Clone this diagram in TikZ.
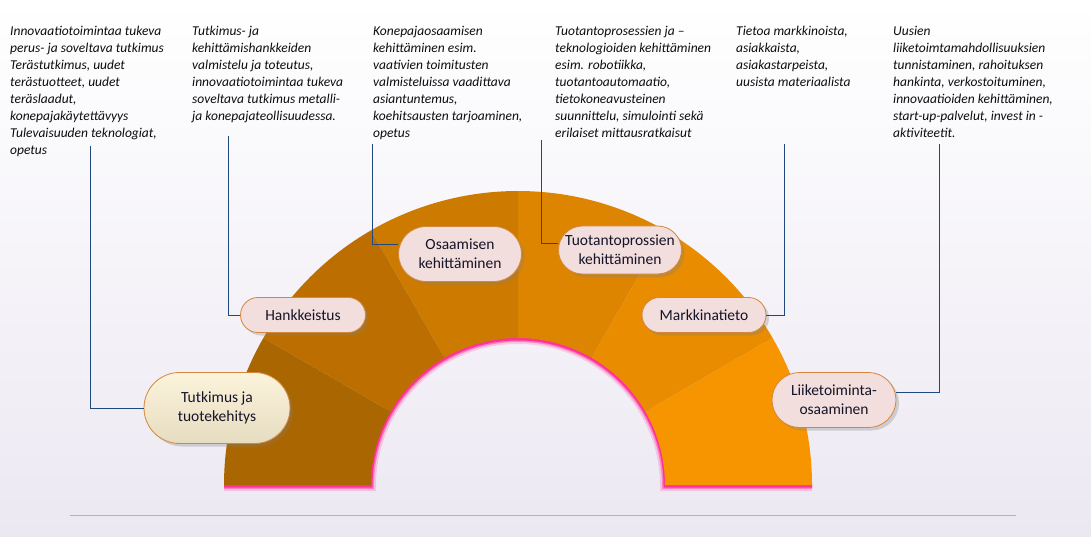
\documentclass[tikz,border=0pt]{standalone}
\usepackage{fontspec}
\setmainfont{Carlito}
\usetikzlibrary{positioning,calc,shapes.misc,shadows}
\definecolor{segA}{RGB}{170,102,0}
\definecolor{segB}{RGB}{188,111,0}
\definecolor{segC}{RGB}{204,122,0}
\definecolor{segD}{RGB}{221,133,0}
\definecolor{segE}{RGB}{233,140,0}
\definecolor{segF}{RGB}{247,149,0}
\definecolor{linkblue}{RGB}{31,73,125}
\definecolor{pillfill}{RGB}{242,222,221}
\definecolor{pillrim}{RGB}{214,134,58}
\definecolor{creamtop}{RGB}{252,243,220}
\definecolor{creambot}{RGB}{230,220,192}
\definecolor{glowpink}{RGB}{255,51,153}
\definecolor{bglav}{RGB}{236,232,242}
\definecolor{inknavy}{RGB}{20,20,40}

\begin{document}
\begin{tikzpicture}[x=1pt, y=1pt,
  pill/.style={rounded rectangle, draw=pillrim, line width=0.8pt,
    fill=pillfill, text=inknavy, align=center, inner sep=2pt,
    font=\fontsize{15.5}{19}\selectfont,
    drop shadow={opacity=0.3, shadow xshift=3pt, shadow yshift=-3pt}},
  note/.style={anchor=north west, align=left, inner sep=0pt,
    font=\itshape\fontsize{13.5}{17}\selectfont, text=black!95},
  link/.style={draw=linkblue, line width=0.7pt}]
% background
\fill[top color=white, bottom color=bglav] (0,0) rectangle (1091,536);
\useasboundingbox (0,0) rectangle (1091,536);
\draw[black!30, line width=1pt] (70,21) -- (1016,21);

% half ring
\begin{scope}[shift={(518,51)}]
  \foreach \w/\o in {10/0.2, 6/0.45, 3/1}
    \draw[glowpink, line width=\w pt, opacity=\o]
      (-294,-1) -- (-147,-1) arc[start angle=180, end angle=0, radius=147]
      -- (294,-1);
  \foreach \c [count=\i from 0] in {segF,segE,segD,segC,segB,segA}
    \fill[\c] (\i*30:147) -- (\i*30:294)
      arc[start angle=\i*30, end angle=\i*30+30, radius=294]
      -- ({\i*30+30}:147)
      arc[start angle=\i*30+30, end angle=\i*30, radius=147] -- cycle;
\end{scope}

% labels on the ring
\node[pill, minimum width=150, minimum height=71,
  top color=creamtop, bottom color=creambot]
  (tutk) at (217,128) {Tutkimus ja\\tuotekehitys};
\node[pill, minimum width=129, minimum height=35] (hank) at (303,221)
  {Hankkeistus};
\node[pill, minimum width=127, minimum height=55] (osaa) at (460,282)
  {Osaamisen\\kehittäminen};
\node[pill, minimum width=127, minimum height=48] (tuot) at (620,286)
  {Tuotantoprossien\\kehittäminen};
\node[pill, minimum width=128, minimum height=35] (mark) at (704,221)
  {Markkinatieto};
\node[pill, minimum width=128, minimum height=55] (liik) at (834,136)
  {Liiketoiminta-\\osaaminen};

% descriptions
\node[note] (dTutk) at (10,510)
  {Innovaatiotoimintaa tukeva\\perus- ja soveltava tutkimus\\
   Terästutkimus, uudet\\terästuotteet, uudet\\teräslaadut,\\
   konepajakäytettävyys\\Tulevaisuuden teknologiat,\\opetus};
\node[note] (dHank) at (192,510)
  {Tutkimus- ja\\kehittämishankkeiden\\valmistelu ja toteutus,\\
   innovaatiotoimintaa tukeva\\soveltava tutkimus metalli-\\
   ja konepajateollisuudessa.};
\node[note] (dOsaa) at (373,510)
  {Konepajaosaamisen\\kehittäminen esim.\\vaativien toimitusten\\
   valmisteluissa vaadittava\\asiantuntemus,\\
   koehitsausten tarjoaminen,\\opetus};
\node[note] (dTuot) at (555,510)
  {Tuotantoprosessien ja --\\teknologioiden kehittäminen\\
   esim. robotiikka,\\tuotantoautomaatio,\\tietokoneavusteinen\\
   suunnittelu, simulointi sekä\\erilaiset mittausratkaisut};
\node[note] (dMark) at (736,510)
  {Tietoa markkinoista,\\asiakkaista,\\asiakastarpeista,\\
   uusista materiaalista};
\node[note] (dLiik) at (893,510)
  {Uusien\\liiketoimtamahdollisuuksien\\tunnistaminen, rahoituksen\\
   hankinta, verkostoituminen,\\innovaatioiden kehittäminen,\\
   start-up-palvelut, invest in -\\aktiviteetit.};

% connectors
\coordinate (fTutk) at (90,390);
\coordinate (fHank) at (228,400);
\coordinate (fOsaa) at (372,392);
\coordinate (fTuot) at (541,396);
\coordinate (fMark) at (784,392);
\coordinate (fLiik) at (939,392);
\draw[link] (fTutk) |- (tutk.west);
\draw[link] (fHank) |- (hank.west);
\draw[link] (fOsaa) |- ($(osaa.west)+(0,10)$);
\draw[link] (fTuot) |- ($(tuot.west)+(0,7)$);
\draw[link] (fMark) |- (mark.east);
\draw[link] (fLiik) |- ($(liik.east)+(0,8)$);
\end{tikzpicture}
\end{document}
